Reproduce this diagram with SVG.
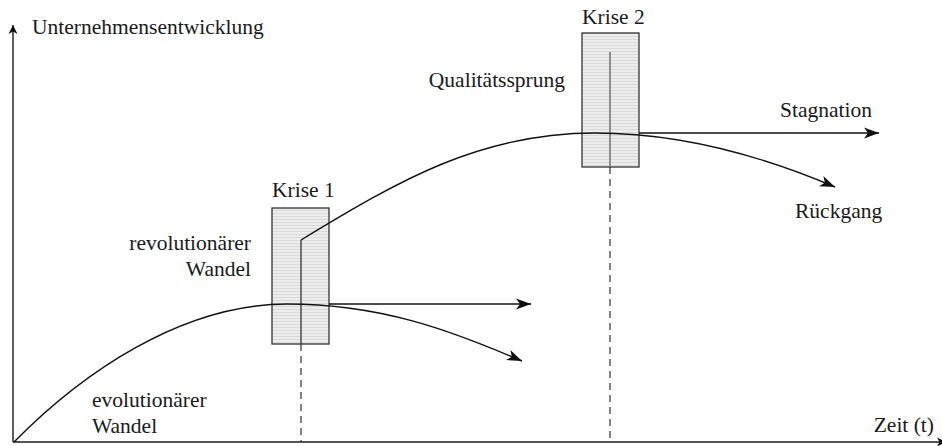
<svg xmlns="http://www.w3.org/2000/svg" width="942" height="446" viewBox="0 0 942 446" font-family="'Liberation Serif', 'Times New Roman', 'DejaVu Serif', serif" font-size="21.5">
  <style>
    text { fill: #1a1a1a; }
    .axis { stroke: #1a1a1a; stroke-width: 1.4; fill: none; }
    .curve { stroke: #111; stroke-width: 1.4; fill: none; }
    .dash { stroke: #333; stroke-width: 1.2; stroke-dasharray: 7 5; fill: none; }
    .box { fill: url(#stripes); stroke: #333; stroke-width: 1.3; }
  </style>
  <defs>
    <pattern id="stripes" width="4" height="3" patternUnits="userSpaceOnUse">
      <rect width="4" height="3" fill="#ededed"/>
      <rect y="0" width="4" height="1" fill="#d9d9d9"/>
    </pattern>
    <marker id="head" markerUnits="userSpaceOnUse" markerWidth="16" markerHeight="12" refX="15" refY="6" orient="auto">
      <path d="M0,0.5 L15,6 L0,11.5 L4,6 z" fill="#111"/>
    </marker>
    <marker id="axishead" markerUnits="userSpaceOnUse" markerWidth="10" markerHeight="10" refX="9" refY="5" orient="auto">
      <path d="M0,0.5 L9,5 L0,9.5 L2.5,5 z" fill="#111"/>
    </marker>
  </defs>

  <!-- axes -->
  <g id="axes">
    <line class="axis" x1="13" y1="442" x2="13" y2="25" marker-end="url(#axishead)"/>
    <line class="axis" x1="13" y1="442" x2="946" y2="442" marker-end="url(#axishead)"/>
    <text x="32" y="34">Unternehmensentwicklung</text>
    <text x="934" y="432" text-anchor="end">Zeit (t)</text>
  </g>

  <!-- crisis boxes -->
  <g id="krise1">
    <rect class="box" x="272" y="208" width="57" height="136"/>
    <text x="272" y="197">Krise 1</text>
  </g>
  <g id="krise2">
    <rect class="box" x="582" y="33" width="57" height="134"/>
    <text x="582" y="24">Krise 2</text>
  </g>

  <!-- connectors -->
  <g id="connectors">
    <!-- time markers -->
    <line class="dash" x1="301" y1="344" x2="301" y2="442"/>
    <line class="dash" x1="610" y1="167" x2="610" y2="442"/>
    <line x1="610" y1="52" x2="610" y2="167" stroke="#777" stroke-width="1.6"/>
    <line x1="301" y1="240" x2="301" y2="344" stroke="#333" stroke-width="1.3"/>

    <!-- first development phase -->
    <path class="curve" d="M14,442 C80,375 180,304 287,304"/>
    <path class="curve" d="M287,304 C380,304 450,330 522,361" marker-end="url(#head)"/>
    <line class="curve" x1="329" y1="304" x2="531" y2="304" marker-end="url(#head)"/>

    <!-- second development phase -->
    <path class="curve" d="M301,240 C400,180 480,133 595,133"/>
    <path class="curve" d="M595,133 C680,133 760,155 835,187" marker-end="url(#head)"/>
    <line class="curve" x1="639" y1="133" x2="879" y2="133" marker-end="url(#head)"/>
  </g>

  <!-- labels -->
  <g id="labels">
    <text x="565" y="87" text-anchor="end">Qualitätssprung</text>
    <text x="780" y="117">Stagnation</text>
    <text x="795" y="218">Rückgang</text>
    <text x="251" y="250" text-anchor="end">revolutionärer</text>
    <text x="251" y="276" text-anchor="end">Wandel</text>
    <text x="92" y="407">evolutionärer</text>
    <text x="92" y="433">Wandel</text>
  </g>
</svg>
